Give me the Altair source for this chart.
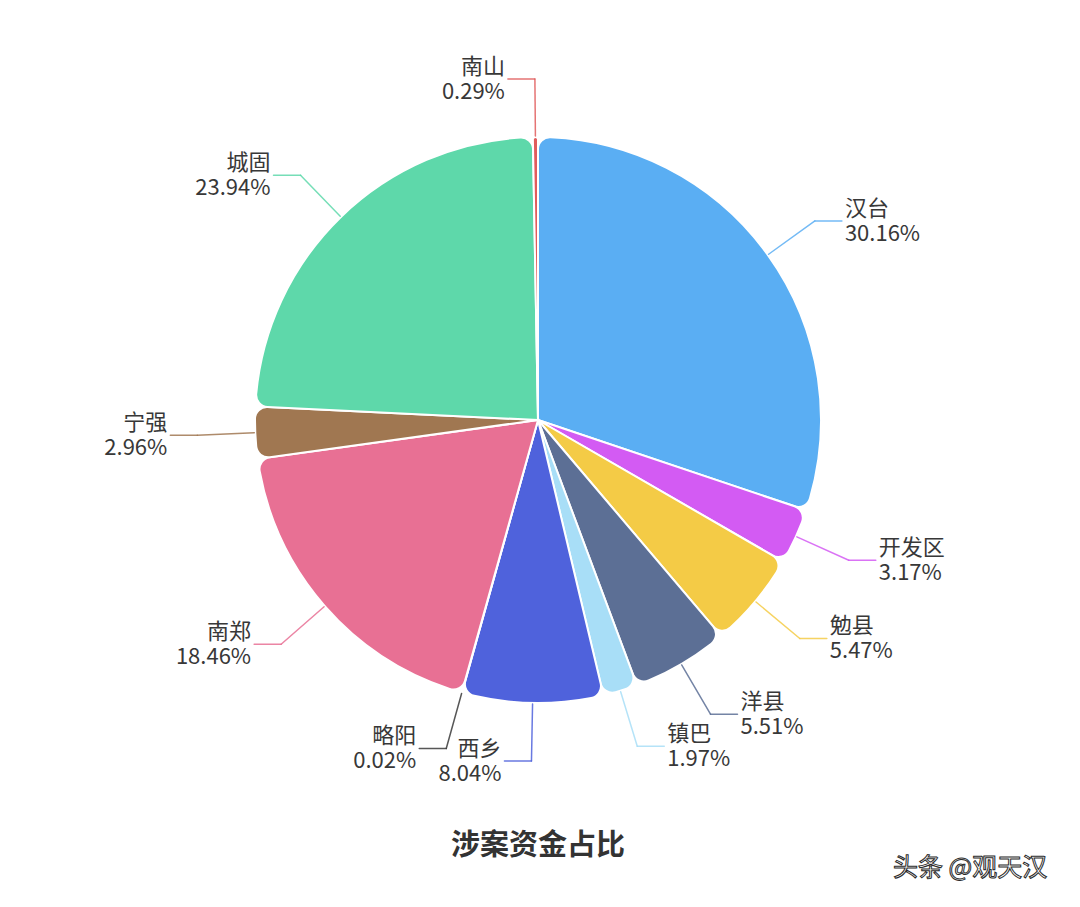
import altair as alt
import pandas as pd

# ---- data ----
names = ["汉台", "开发区", "勉县", "洋县", "镇巴", "西乡", "略阳", "南郑", "宁强", "城固", "南山"]
shares = [30.16, 3.17, 5.47, 5.51, 1.97, 8.04, 0.02, 18.46, 2.96, 23.94, 0.29]
colors = ["#5aaef3", "#d35bf3", "#f4cb46", "#5c6f95", "#a8def7", "#4f62dc",
          "#3a3a3a", "#e87094", "#a07751", "#5ed8aa", "#e05c5c"]
title_text = ["涉案资金占比"]
watermark = ["头条 @观天汉"]

# ---- layout ----
W, H = 1060, 824
R_PIE = 283
R0 = 284      # label line start radius
L1 = 57       # first (radial) segment
L2 = 27       # second (horizontal) segment
FONT = "Noto Sans CJK SC"

df = pd.DataFrame({
    "name": names,
    "share": shares,
    "idx": list(range(len(names))),
    "label": [f"{n}\n{s:.2f}%" for n, s in zip(names, shares)],
})

color = alt.Color("name:N", scale=alt.Scale(domain=names, range=colors), legend=None)
xs = alt.Scale(domain=[-W / 2, W / 2], nice=False, zero=False)
ys = alt.Scale(domain=[-H / 2, H / 2], nice=False, zero=False, reverse=True)

base = alt.Chart(df)

arcs = base.mark_arc(
    outerRadius=R_PIE, cornerRadius=12, stroke="white", strokeWidth=2
).encode(
    theta=alt.Theta("share:Q", stack=True),
    order=alt.Order("idx:Q"),
    color=color,
)

geo = (
    base.transform_window(cum="sum(share)", sort=[alt.SortField("idx")], frame=[None, 0])
    .transform_joinaggregate(total="sum(share)")
    .transform_calculate(mid="(datum.cum - datum.share / 2) / datum.total * 2 * PI")
    .transform_calculate(s="sin(datum.mid)")
    .transform_calculate(c="cos(datum.mid)")
    .transform_calculate(side="datum.s >= 0 ? 1 : -1")
    .transform_calculate(x1=f"{R0} * datum.s")
    .transform_calculate(y1=f"-{R0} * datum.c")
    .transform_calculate(x2=f"{R0 + L1} * datum.s")
    .transform_calculate(y2=f"-{R0 + L1} * datum.c")
    .transform_calculate(x3=f"datum.x2 + datum.side * {L2}")
    .transform_calculate(tx="datum.x3 + datum.side * 3")
)

seg1 = geo.mark_rule(strokeWidth=1.5, strokeCap="round", strokeOpacity=0.85).encode(
    x=alt.X("x1:Q", scale=xs, axis=None),
    y=alt.Y("y1:Q", scale=ys, axis=None),
    x2="x2:Q",
    y2="y2:Q",
    color=color,
)
seg2 = geo.mark_rule(strokeWidth=1.5, strokeCap="round", strokeOpacity=0.85).encode(
    x=alt.X("x2:Q", scale=xs, axis=None),
    y=alt.Y("y2:Q", scale=ys, axis=None),
    x2="x3:Q",
    color=color,
)

text_props = dict(baseline="middle", lineBreak="\n", lineHeight=25, fontSize=22, dy=-12,
                  font=FONT, color="#383838")
txt_right = geo.transform_filter("datum.side > 0").mark_text(align="left", **text_props).encode(
    x=alt.X("tx:Q", scale=xs, axis=None),
    y=alt.Y("y2:Q", scale=ys, axis=None),
    text="label:N",
)
txt_left = geo.transform_filter("datum.side < 0").mark_text(align="right", **text_props).encode(
    x=alt.X("tx:Q", scale=xs, axis=None),
    y=alt.Y("y2:Q", scale=ys, axis=None),
    text="label:N",
)

title = alt.Chart(pd.DataFrame({"t": title_text})).mark_text(
    align="center", baseline="middle", fontSize=29, fontWeight="bold", font=FONT,
    color="#333333"
).encode(x=alt.value(W / 2), y=alt.value(838), text="t:N")

wm = alt.Chart(pd.DataFrame({"t": watermark})).mark_text(
    align="center", baseline="middle", fontSize=25, font=FONT,
    fill="#ffffff", stroke="#2a2a2a", strokeWidth=1.0
).encode(x=alt.value(962), y=alt.value(860), text="t:N")

chart = alt.layer(arcs, seg1, seg2, txt_right, txt_left, title, wm).properties(
    width=W,
    height=H,
    autosize=alt.AutoSizeParams(type="none"),
    padding={"left": 0, "top": 0, "right": 0, "bottom": 60},
    background="white",
).configure_view(stroke=None)

chart.save("out.html", embed_options={"renderer": "svg", "actions": False})
